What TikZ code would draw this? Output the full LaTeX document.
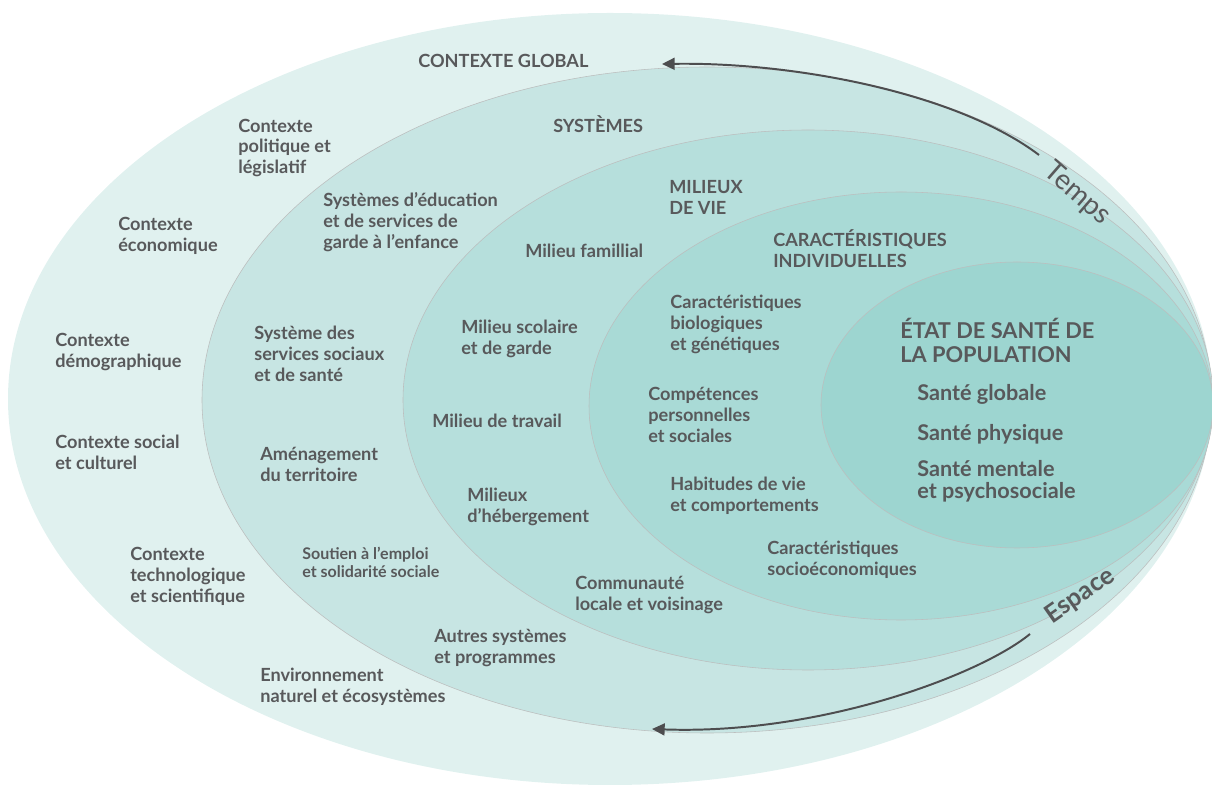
\documentclass[tikz,border=0pt]{standalone}
\usepackage{fontspec}
\setmainfont{Lato}
\usepackage{tikz}
\usetikzlibrary{arrows.meta}
\definecolor{txt}{RGB}{88,89,91}
\definecolor{arrowgray}{RGB}{77,77,79}
\definecolor{rimgray}{RGB}{188,190,190}
\definecolor{ringglobal}{RGB}{224,241,239}
\definecolor{ringsys}{RGB}{199,229,227}
\definecolor{ringmil}{RGB}{182,223,220}
\definecolor{ringcar}{RGB}{169,218,214}
\definecolor{ringetat}{RGB}{157,213,208}

\begin{document}
\begin{tikzpicture}[x=0.025cm, y=0.025cm,
    ring/.style={draw=rimgray, line width=0.4pt},
    lbl/.style={align=left, anchor=west, inner sep=0pt, text=txt,
      font=\bfseries\fontsize{12.9}{14.9}\selectfont},
    small lbl/.style={lbl, font=\bfseries\fontsize{11.4}{12.8}\selectfont},
    big lbl/.style={lbl, font=\bfseries\fontsize{15.5}{17}\selectfont},
    sante/.style={lbl, font=\bfseries\fontsize{15.4}{15.6}\selectfont},
    axis lbl/.style={inner sep=0pt, text=txt},
    timeline/.style={draw=arrowgray, line width=1.4pt,
      -{Triangle[length=9pt, width=8.5pt]}},
  ]
  \useasboundingbox (0,0) rectangle (1212,-786);
  \clip (0,0) rectangle (1212,-786);

  \fill[ringglobal] (610,-399) ellipse [x radius=602, y radius=386];
  \filldraw[ring, fill=ringsys] (707,-400) ellipse [x radius=505, y radius=333];
  \filldraw[ring, fill=ringmil] (808,-400) ellipse [x radius=405, y radius=270];
  \filldraw[ring, fill=ringcar] (901,-406) ellipse [x radius=312, y radius=214];
  \filldraw[ring, fill=ringetat] (1017,-405) ellipse [x radius=196, y radius=143];

  % contexte global
  \node[lbl] (global) at (418,-61) {CONTEXTE GLOBAL};
  \node[lbl] (politique) at (238,-148) {Contexte\\politique et\\législatif};
  \node[lbl] (economique) at (118,-236) {Contexte\\économique};
  \node[lbl] (demographique) at (55,-352) {Contexte\\démographique};
  \node[lbl] (social) at (55,-452) {Contexte social\\et culturel};
  \node[lbl] (techno) at (130,-576) {Contexte\\technologique\\et scientifique};
  \node[lbl] (environnement) at (260,-687) {Environnement\\naturel et écosystèmes};

  % systemes
  \node[lbl] (systemes) at (553,-124) {SYSTÈMES};
  \node[lbl] (education) at (323,-222) {Systèmes d’éducation\\et de services de\\garde à l’enfance};
  \node[lbl] (services) at (254,-354) {Système des\\services sociaux\\et de santé};
  \node[lbl] (territoire) at (260,-464) {Aménagement\\du territoire};
  \node[small lbl] (emploi) at (302,-562) {Soutien à l’emploi\\et solidarité sociale};
  \node[lbl] (autres) at (434,-648) {Autres systèmes\\et programmes};

  % milieux de vie
  \node[lbl] (milieux) at (669,-197) {MILIEUX\\DE VIE};
  \node[lbl] (familial) at (525,-251) {Milieu famillial};
  \node[lbl] (scolaire) at (461,-339) {Milieu scolaire\\et de garde};
  \node[lbl] (travail) at (432,-421) {Milieu de travail};
  \node[lbl] (hebergement) at (467,-507) {Milieux\\d’hébergement};
  \node[lbl] (communaute) at (575,-595) {Communauté\\locale et voisinage};

  % caracteristiques individuelles
  \node[lbl] (caract) at (773,-249) {CARACTÉRISTIQUES\\INDIVIDUELLES};
  \node[lbl] (biologiques) at (670,-324) {Caractéristiques\\biologiques\\et génétiques};
  \node[lbl] (competences) at (648,-415) {Compétences\\personnelles\\et sociales};
  \node[lbl] (habitudes) at (670,-496) {Habitudes de vie\\et comportements};
  \node[lbl] (socioeco) at (767,-560) {Caractéristiques\\socioéconomiques};

  % etat de sante
  \node[big lbl] (etat) at (900,-340) {ÉTAT DE SANTÉ DE\\LA POPULATION};
  \node[sante] (globale) at (917,-394) {Santé globale};
  \node[sante] (physique) at (917,-434) {Santé physique};
  \node[sante] (mentale) at (917,-481) {Santé mentale\\et psychosociale};

  % temps et espace
  \node[axis lbl, rotate=-41, font=\fontsize{20}{22}\selectfont] (temps) at (1077,-194) {Temps};
  \node[axis lbl, rotate=35, font=\bfseries\fontsize{18}{20}\selectfont] (espace) at (1080,-596) {Espace};
  \coordinate (tempsfrom) at (1039,-155);
  \coordinate (tempsto) at (662,-64);
  \coordinate (espacefrom) at (1030,-634);
  \coordinate (espaceto) at (652,-729);
  \draw[timeline] (tempsfrom) .. controls (960,-95) and (800,-62) .. (tempsto);
  \draw[timeline] (espacefrom) .. controls (980,-675) and (820,-735) .. (espaceto);
\end{tikzpicture}
\end{document}
